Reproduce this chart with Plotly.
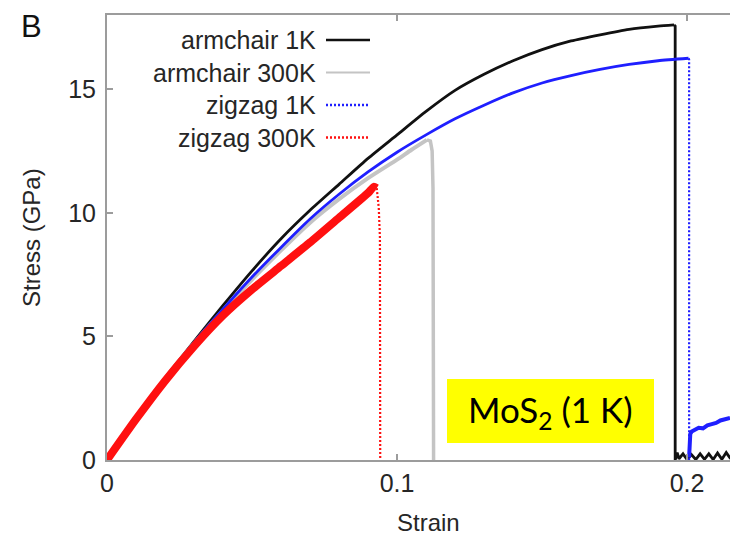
import plotly.graph_objects as go

# ---- stress-strain data (strain, stress in GPa) ----
# armchair, 1 K
arm1_strain = [0, 0.01, 0.02, 0.03, 0.04, 0.05, 0.06, 0.07, 0.08, 0.09, 0.10,
               0.11, 0.12, 0.13, 0.14, 0.15, 0.16, 0.17, 0.18, 0.19, 0.1955]
arm1_stress = [0, 1.7, 3.3, 4.8, 6.25, 7.65, 8.95, 10.1, 11.15, 12.2, 13.15,
               14.1, 14.95, 15.6, 16.15, 16.6, 16.95, 17.2, 17.42, 17.55, 17.6]
# fracture and post-fracture residue
arm1_fail_strain = [0.1955, 0.1959, 0.1959, 0.1966, 0.1972, 0.1986, 0.2000, 0.2015, 0.2030,
                    0.2045, 0.2060, 0.2075, 0.2090, 0.2105, 0.2120, 0.2135, 0.2150]
arm1_fail_stress = [17.6, 17.55, 0, 0.3, 0.05, 0.25, 0.02, 0.22, 0.02,
                    0.25, 0.03, 0.25, 0.02, 0.28, 0.03, 0.3, 0.05]

# armchair, 300 K
arm300_strain = [0, 0.01, 0.02, 0.03, 0.04, 0.05, 0.06, 0.07, 0.08, 0.09, 0.10,
                 0.105, 0.1103]
arm300_stress = [0, 1.7, 3.3, 4.72, 6.05, 7.3, 8.48, 9.6, 10.55, 11.4, 12.15,
                 12.55, 12.95]
arm300_fail_strain = [0.1103, 0.1115, 0.1121, 0.1124, 0.1126]
arm300_fail_stress = [12.95, 12.9, 12.5, 11.0, 0]

# zigzag, 1 K
zig1_strain = [0, 0.01, 0.02, 0.03, 0.04, 0.05, 0.06, 0.07, 0.08, 0.09, 0.10,
               0.11, 0.12, 0.13, 0.14, 0.15, 0.16, 0.17, 0.18, 0.19, 0.2005]
zig1_stress = [0, 1.7, 3.3, 4.75, 6.1, 7.4, 8.6, 9.75, 10.75, 11.65, 12.45,
               13.15, 13.8, 14.35, 14.85, 15.25, 15.55, 15.8, 16.0, 16.15, 16.25]
zig1_drop_strain = [0.2005, 0.2007, 0.2007]
zig1_drop_stress = [16.25, 16.2, 0]
zig1_tail_strain = [0.2007, 0.2009, 0.2011, 0.2016, 0.2025, 0.2040, 0.2055, 0.2070,
                    0.2085, 0.2100, 0.2115, 0.2130, 0.2148]
zig1_tail_stress = [0.1, 0.8, 1.05, 1.15, 1.2, 1.3, 1.28, 1.4, 1.45, 1.5, 1.6, 1.65, 1.7]

# zigzag, 300 K
zig300_strain = [0, 0.01, 0.02, 0.03, 0.04, 0.05, 0.06, 0.07, 0.08, 0.09,
                 0.092, 0.093]
zig300_stress = [0, 1.65, 3.2, 4.6, 5.85, 6.9, 7.85, 8.8, 9.8, 10.8,
                 11.05, 11.0]
zig300_drop_strain = [0.093, 0.0937, 0.0941, 0.0942]
zig300_drop_stress = [11.0, 10.2, 9.0, 0]

x_ticks = [0, 0.1, 0.2]
x_tick_text = ["0", "0.1", "0.2"]
y_ticks = [0, 5, 10, 15]

legend_names = ["armchair 1K", "armchair 300K", "zigzag 1K", "zigzag 300K"]

BLACK = "#111111"
GRAY = "#c4c4c4"
BLUE = "#1f1fff"
RED = "#ff1010"
AXIS = "#9c9c9c"
TEXT = "#262626"
FONT = "Liberation Sans, Arial, sans-serif"

fig = go.Figure()

def add(x, y, color, width, dash="solid", shape="linear", name=None):
    fig.add_trace(go.Scatter(
        x=x, y=y, mode="lines", name=name, showlegend=False,
        line=dict(color=color, width=width, dash=dash, shape=shape,
                  smoothing=0.6 if shape == "spline" else None),
        hoverinfo="skip",
    ))

add(arm1_strain, arm1_stress, BLACK, 2.8, shape="spline", name=legend_names[0])
add(arm1_fail_strain, arm1_fail_stress, BLACK, 2.8)
add(arm300_strain, arm300_stress, GRAY, 4, shape="spline", name=legend_names[1])
add(arm300_fail_strain, arm300_fail_stress, GRAY, 3.5)
add(zig1_strain, zig1_stress, BLUE, 2.8, shape="spline", name=legend_names[2])
add(zig1_drop_strain, zig1_drop_stress, BLUE, 2.2, dash="2px,2px")
add(zig1_tail_strain, zig1_tail_stress, BLUE, 4)
add(zig300_strain, zig300_stress, RED, 8, shape="spline", name=legend_names[3])
add(zig300_drop_strain, zig300_drop_stress, RED, 2.2, dash="2px,2px")

# plot area in pixels: x 107..730, y 15..460
L, R, T, B = 107, 730, 15, 460
def px(xp):
    return (xp - L) / (R - L)
def py(yp):
    return (B - yp) / (B - T)

# key in the upper-left corner: text first, line sample after
key_styles = [(BLACK, 2.6, "solid"), (GRAY, 2.2, "solid"),
              (BLUE, 2.4, "2px,2px"), (RED, 2.4, "2px,2px")]
key_rows = [40, 72.5, 105, 137.5]
annotations = []
shapes = []
for name, (col, w, d), yr in zip(legend_names, key_styles, key_rows):
    annotations.append(dict(
        x=px(318), y=py(yr), xref="paper", yref="paper", text=name,
        showarrow=False, xanchor="right", yanchor="middle",
        font=dict(family=FONT, size=25, color=TEXT)))
    shapes.append(dict(
        type="line", xref="paper", yref="paper",
        x0=px(326), x1=px(370), y0=py(yr), y1=py(yr),
        line=dict(color=col, width=w, dash=d)))

# panel letter
annotations.append(dict(
    x=px(31), y=py(26), xref="paper", yref="paper", text="B",
    showarrow=False, xanchor="center", yanchor="middle",
    font=dict(family=FONT, size=31, color="#111111")))

# axis titles
annotations.append(dict(
    x=px(428), y=py(522), xref="paper", yref="paper", text="Strain",
    showarrow=False, xanchor="center", yanchor="middle",
    font=dict(family=FONT, size=24, color=TEXT)))
annotations.append(dict(
    x=px(32), y=py(238), xref="paper", yref="paper", text="Stress (GPa)",
    showarrow=False, xanchor="center", yanchor="middle", textangle=-90,
    font=dict(family=FONT, size=24, color=TEXT)))

# yellow label box
shapes.append(dict(
    type="rect", xref="paper", yref="paper",
    x0=px(447), x1=px(654), y0=py(443), y1=py(379),
    fillcolor="#ffff00", line=dict(width=0), layer="above"))
annotations.append(dict(
    x=px(550), y=py(411), xref="paper", yref="paper",
    text="MoS<sub>2</sub> (1 K)", showarrow=False,
    xanchor="center", yanchor="middle",
    font=dict(family="Lato, Open Sans, sans-serif", size=35, color="#000000")))

fig.update_layout(
    width=730, height=535,
    margin=dict(l=L, r=730 - R, t=T, b=535 - B, pad=0),
    paper_bgcolor="white", plot_bgcolor="white",
    showlegend=False,
    annotations=annotations, shapes=shapes,
    xaxis=dict(
        range=[0, 0.2148], tickvals=x_ticks, ticktext=x_tick_text,
        ticks="inside", ticklen=6, tickcolor=AXIS, tickwidth=1.5,
        showline=True, linecolor=AXIS, linewidth=2, mirror="ticks",
        showgrid=False, zeroline=False,
        tickfont=dict(family=FONT, size=25, color=TEXT),
        ticklabelstandoff=0,
    ),
    yaxis=dict(
        range=[0, 18], tickvals=y_ticks,
        ticks="inside", ticklen=6, tickcolor=AXIS, tickwidth=1.5,
        showline=True, linecolor=AXIS, linewidth=2, mirror=False,
        showgrid=False, zeroline=False,
        tickfont=dict(family=FONT, size=25, color=TEXT),
        ticklabelstandoff=4,
    ),
)

fig.write_html("out.html")
